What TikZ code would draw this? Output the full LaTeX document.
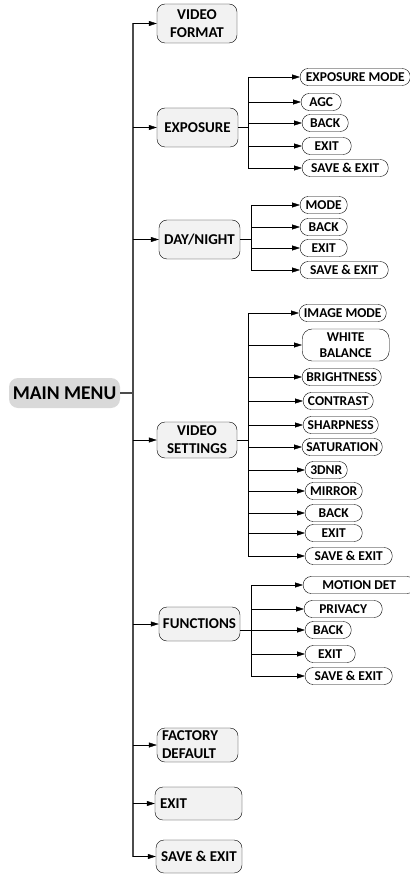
\documentclass[tikz,border=0pt]{standalone}
\usepackage{fontspec}
\setmainfont{Carlito}
\usepackage{tikz}
\usetikzlibrary{positioning, calc, arrows.meta}

\begin{document}
\begin{tikzpicture}[x=1pt, y=-1pt, font=\bfseries,
    mainbox/.style = {fill=gray!30, rounded corners=9pt, minimum width=111pt, minimum height=30pt, font=\fontsize{19.5}{22}\bfseries},
    menubox/.style = {draw, fill=gray!10, rounded corners=8pt, align=center, inner sep=2pt, font=\fontsize{15}{18}\bfseries},
    subbox/.style = {draw, fill=white, rounded corners=8pt, align=center, inner sep=1pt, minimum height=17pt, anchor=west, font=\fontsize{13.5}{16}\bfseries},
    arr/.style = {-{Triangle[length=8pt,width=5pt]}},
    trunk/.style = {draw=black!70, line width=1.2pt}]
    \useasboundingbox (0,0) rectangle (409,874);
    % main menu and first level
    \node[mainbox] (mm) at (64.5,393) {MAIN MENU};
    \node[menubox, minimum width=80pt, minimum height=39pt] (vf) at (197,23.5) {VIDEO\\FORMAT};
    \node[menubox, minimum width=81pt, minimum height=39pt] (exp) at (197.5,127.5) {EXPOSURE};
    \node[menubox, minimum width=81pt, minimum height=39pt] (dn) at (199.5,239.5) {DAY/NIGHT};
    \node[menubox, minimum width=80pt, minimum height=36pt] (vs) at (197,440) {VIDEO\\SETTINGS};
    \node[menubox, minimum width=81pt, minimum height=34pt] (fn) at (199.5,624) {FUNCTIONS};
    \node[menubox, minimum height=34pt, text width=71pt, align=left, inner xsep=5pt] (fd) at (197.5,745) {FACTORY\\DEFAULT};
    \node[menubox, minimum height=33pt, text width=77pt, align=left, inner xsep=5pt] (ex) at (198.5,803.5) {EXIT};
    \node[menubox, minimum width=86pt, minimum height=33pt] (se) at (199,856.5) {SAVE \& EXIT};
    \coordinate (tr) at (133,0);
    \draw[trunk] (mm.east) -- (mm.east -| tr);
    \draw[trunk] (vf.west -| tr) -- (se.west -| tr);
    \foreach \n in {vf,exp,dn,vs,fn,fd,ex,se}
        \draw[arr] (\n.west -| tr) -- (\n.west);
    % sub menus
    \foreach \nm/\x/\y/\w/\txt in {
        e1/300/77/110/EXPOSURE MODE, e2/301/102/40/AGC, e3/302/123/46/BACK,
        e4/302/146/49/EXIT, e5/302/168/86/SAVE \& EXIT,
        d1/300/205/47/MODE, d2/300/227/47/BACK, d3/300/248/47/EXIT, d4/300/270/88/SAVE \& EXIT,
        v1/299/313/87/IMAGE MODE, v3/302/377/79/BRIGHTNESS, v4/303/401/70/CONTRAST,
        v5/303/425/75/SHARPNESS, v6/302/447/80/SATURATION, v7/305/470/42/3DNR,
        v8/305/491/57/MIRROR, v9/305/513/57/BACK, v10/305/533/57/EXIT, v11/305/556/87/SAVE \& EXIT,
        f1/303/585/112/MOTION DET, f2/304/609/78/PRIVACY, f3/305/630/46/BACK,
        f4/305/654/50/EXIT, f5/305/676/87/SAVE \& EXIT}
        \node[subbox, minimum width=\w pt] (\nm) at (\x,\y) {\txt};
    \node[subbox, minimum width=87pt, minimum height=32pt, rounded corners=10pt] (v2) at (302,345) {WHITE\\BALANCE};
    % branches
    \coordinate (eb) at (248,0);
    \coordinate (db) at (251,0);
    \coordinate (vb) at (248,0);
    \coordinate (fb) at (251,0);
    \draw (exp.east) -- (exp.east -| eb);
    \draw (e1.west -| eb) -- (e5.west -| eb);
    \foreach \n in {e1,e2,e3,e4,e5} \draw[arr] (\n.west -| eb) -- (\n.west);
    \draw (dn.east) -- (dn.east -| db);
    \draw (d1.west -| db) -- (d4.west -| db);
    \foreach \n in {d1,d2,d3,d4} \draw[arr] (\n.west -| db) -- (\n.west);
    \draw (vs.east) -- (vs.east -| vb);
    \draw (v1.west -| vb) -- (v11.west -| vb);
    \foreach \n in {v1,v2,v3,v4,v5,v6,v7,v8,v9,v10,v11} \draw[arr] (\n.west -| vb) -- (\n.west);
    \draw (fn.east |- f3.west) -- (f3.west -| fb);
    \draw (f1.west -| fb) -- (f5.west -| fb);
    \foreach \n in {f1,f2,f3,f4,f5} \draw[arr] (\n.west -| fb) -- (\n.west);
\end{tikzpicture}
\end{document}
